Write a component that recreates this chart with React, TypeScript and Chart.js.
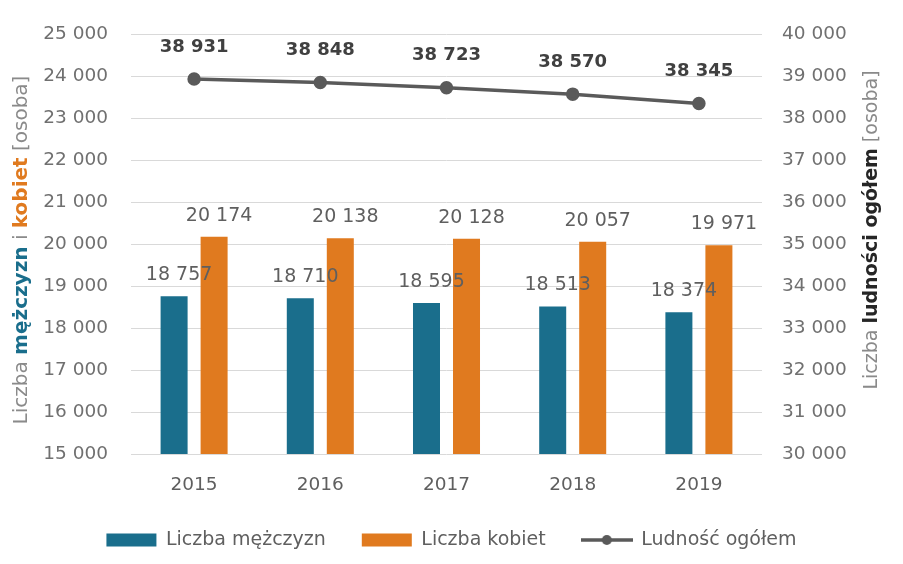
import React, { useEffect, useRef } from "react";
import { Chart, registerables } from "chart.js";

Chart.register(...registerables);

const years = ["2015", "2016", "2017", "2018", "2019"];
const men = [18757, 18710, 18595, 18513, 18374];
const women = [20174, 20138, 20128, 20057, 19971];
const total = [38931, 38848, 38723, 38570, 38345];

const leftMin = 15000;
const leftMax = 25000;
const rightMin = 30000;
const rightMax = 40000;
const tickStep = 1000;

const seriesNames = ["Liczba mężczyzn", "Liczba kobiet", "Ludność ogółem"];
const leftTitle = [
  { t: "Liczba ", bold: false, c: "#8a8a8a" },
  { t: "mężczyzn", bold: true, c: "#1a6e8c" },
  { t: " i ", bold: false, c: "#8a8a8a" },
  { t: "kobiet", bold: true, c: "#e07a1f" },
  { t: " [osoba]", bold: false, c: "#8a8a8a" },
];
const rightTitle = [
  { t: "Liczba ", bold: false, c: "#8a8a8a" },
  { t: "ludności ogółem", bold: true, c: "#262626" },
  { t: " [osoba]", bold: false, c: "#8a8a8a" },
];

const TEAL = "#1a6e8c";
const ORANGE = "#e07a1f";
const GRAY_LINE = "#5a5a5a";
const FONT = "'DejaVu Sans', sans-serif";

const fmt = (n: number) =>
  Math.round(n).toString().replace(/\B(?=(\d{3})+(?!\d))/g, " ");

function drawRichVertical(
  ctx: CanvasRenderingContext2D,
  parts: { t: string; bold: boolean; c: string }[],
  cx: number,
  cy: number,
  size: number
) {
  ctx.save();
  ctx.translate(cx, cy);
  ctx.rotate(-Math.PI / 2);
  ctx.textBaseline = "middle";
  ctx.textAlign = "left";
  let totalW = 0;
  const widths = parts.map((p) => {
    ctx.font = `${p.bold ? "bold " : ""}${size}px ${FONT}`;
    const w = ctx.measureText(p.t).width;
    totalW += w;
    return w;
  });
  let x = -totalW / 2;
  parts.forEach((p, i) => {
    ctx.font = `${p.bold ? "bold " : ""}${size}px ${FONT}`;
    ctx.fillStyle = p.c;
    ctx.fillText(p.t, x, 0);
    x += widths[i];
  });
  ctx.restore();
}

const labelsPlugin = {
  id: "valueLabels",
  afterDatasetsDraw(chart: any) {
    const ctx = chart.ctx as CanvasRenderingContext2D;
    ctx.save();
    ctx.textAlign = "center";
    ctx.textBaseline = "middle";
    chart.data.datasets.forEach((ds: any, di: number) => {
      const meta = chart.getDatasetMeta(di);
      meta.data.forEach((el: any, i: number) => {
        const v = ds.data[i] as number;
        if (di === 2) {
          ctx.font = `bold 18px ${FONT}`;
          ctx.fillStyle = "#404040";
          ctx.fillText(fmt(v), el.x, el.y - 32);
        } else {
          ctx.font = `19px ${FONT}`;
          ctx.fillStyle = "#5f5f5f";
          ctx.fillText(fmt(v), el.x + 5, el.y - 21);
        }
      });
    });
    ctx.restore();
  },
  afterDraw(chart: any) {
    const ctx = chart.ctx as CanvasRenderingContext2D;
    drawRichVertical(ctx, leftTitle, 22, 250, 20);
    drawRichVertical(ctx, rightTitle, 872, 230, 19);
  },
};

function makeLineSymbol(): HTMLCanvasElement {
  const c = document.createElement("canvas");
  c.width = 52;
  c.height = 14;
  const g = c.getContext("2d")!;
  g.strokeStyle = GRAY_LINE;
  g.lineWidth = 3.5;
  g.beginPath();
  g.moveTo(0, 7);
  g.lineTo(52, 7);
  g.stroke();
  g.fillStyle = GRAY_LINE;
  g.beginPath();
  g.arc(26, 7, 5, 0, Math.PI * 2);
  g.fill();
  return c;
}

export default function App() {
  const ref = useRef<HTMLCanvasElement | null>(null);

  useEffect(() => {
    if (!ref.current) return;
    const lineSymbol = makeLineSymbol();
    const tickFont = { family: FONT, size: 18.5 };
    const chart = new Chart(ref.current, {
      type: "bar",
      data: {
        labels: years,
        datasets: [
          {
            type: "bar",
            label: seriesNames[0],
            data: men,
            backgroundColor: TEAL,
            yAxisID: "y",
            categoryPercentage: 0.634,
            barPercentage: 0.675,
            order: 2,
          },
          {
            type: "bar",
            label: seriesNames[1],
            data: women,
            backgroundColor: ORANGE,
            yAxisID: "y",
            categoryPercentage: 0.634,
            barPercentage: 0.675,
            order: 2,
          },
          {
            type: "line",
            label: seriesNames[2],
            data: total,
            borderColor: GRAY_LINE,
            backgroundColor: GRAY_LINE,
            borderWidth: 3.5,
            pointRadius: 5,
            pointBackgroundColor: GRAY_LINE,
            pointBorderColor: GRAY_LINE,
            yAxisID: "y1",
            order: 1,
          } as any,
        ],
      },
      options: {
        responsive: false,
        animation: false,
        layout: { padding: { top: 34, left: 0, right: 0, bottom: 4.5 } },
        plugins: {
          legend: {
            position: "bottom",
            labels: {
              font: { family: FONT, size: 19 },
              color: "#5f5f5f",
              padding: 36,
              usePointStyle: true,
              pointStyleWidth: 50,
              boxHeight: 13,
              sort: (a: any, b: any) => a.datasetIndex - b.datasetIndex,
              generateLabels: (chart: any) => {
                const items = (Chart.defaults.plugins.legend.labels as any).generateLabels(chart);
                items.forEach((it: any) => {
                  if (it.datasetIndex === 2) {
                    it.pointStyle = lineSymbol;
                  } else {
                    it.pointStyle = "rect";
                    it.lineWidth = 0;
                  }
                });
                return items;
              },
            },
          },
          tooltip: { enabled: false },
        },
        scales: {
          x: {
            grid: { display: false, drawTicks: false },
            border: { display: false },
            ticks: { font: tickFont, color: "#5f5f5f", padding: 20 },
            afterFit: (s: any) => {
              s.height = 40.5;
            },
          },
          y: {
            position: "left",
            min: leftMin,
            max: leftMax,
            grid: { color: "#d9d9d9", drawTicks: false, lineWidth: 1 },
            border: { display: false },
            ticks: {
              stepSize: tickStep,
              font: tickFont,
              color: "#707070",
              padding: 23,
              callback: (v: any) => fmt(Number(v)),
            },
            afterFit: (s: any) => {
              s.width = 131;
            },
          },
          y1: {
            position: "right",
            min: rightMin,
            max: rightMax,
            grid: { display: false, drawTicks: false },
            border: { display: false },
            ticks: {
              stepSize: tickStep,
              font: tickFont,
              color: "#707070",
              padding: 20,
              callback: (v: any) => fmt(Number(v)),
            },
            afterFit: (s: any) => {
              s.width = 141;
            },
          },
        },
      },
      plugins: [labelsPlugin],
    });
    return () => chart.destroy();
  }, []);

  return (
    <div style={{ position: "fixed", left: 0, top: 0, width: 903, height: 564, background: "#fff" }}>
      <canvas ref={ref} width={903} height={564} />
    </div>
  );
}
